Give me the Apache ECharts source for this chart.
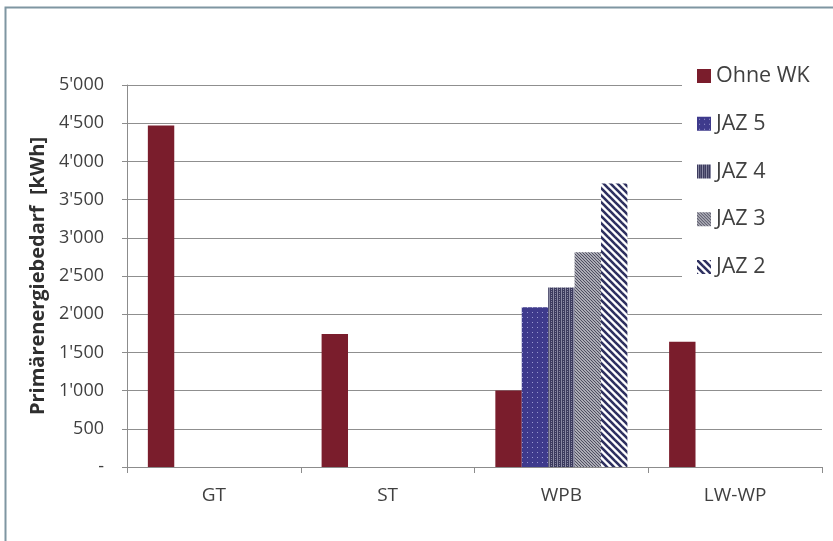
<!DOCTYPE html>
<html>
<head>
<meta charset="utf-8">
<script src="https://cdn.jsdelivr.net/npm/echarts@6/dist/echarts.min.js"></script>
<style>
  html, body { margin: 0; padding: 0; background: #fff; }
  #chart { width: 833px; height: 541px; }
</style>
</head>
<body>
<div id="chart"></div>
<script>
// Heating systems compared
const categories = ['GT', 'ST', 'WPB', 'LW-WP'];
const seriesNames = ['Ohne WK', 'JAZ 5', 'JAZ 4', 'JAZ 3', 'JAZ 2'];
// Primary energy demand [kWh]
const ohneWK = [4470, 1740, 1000, 1640];
const jaz5 = [null, null, 2090, null];
const jaz4 = [null, null, 2350, null];
const jaz3 = [null, null, 2810, null];
const jaz2 = [null, null, 3710, null];
const yTicks = [0, 500, 1000, 1500, 2000, 2500, 3000, 3500, 4000, 4500, 5000];

const FONT = '"Open Sans", "Noto Sans", sans-serif';

// Tile helpers for the hatched fills
function tile(w, h, draw) {
  const c = document.createElement('canvas');
  c.width = w; c.height = h;
  const g = c.getContext('2d');
  draw(g, w, h);
  return { image: c, repeat: 'repeat' };
}
function backslash(g, w, h, color, lw) {
  g.strokeStyle = color; g.lineWidth = lw;
  for (let k = -h; k <= w + h; k += w) {
    g.beginPath(); g.moveTo(k - 1, -1); g.lineTo(k + h + 1, h + 1); g.stroke();
  }
}

const fills = [
  '#7a1d2c',
  tile(5, 5, (g, w, h) => {
    g.fillStyle = '#3e3a8c'; g.fillRect(0, 0, w, h);
    g.fillStyle = '#9a98d0'; g.fillRect(2, 2, 1, 1);
  }),
  tile(4, 4, (g, w, h) => {
    g.fillStyle = '#3c3b5e'; g.fillRect(0, 0, w, h);
    g.fillStyle = '#8a8aa4'; g.fillRect(1, 0, 1, h); g.fillRect(3, 1, 1, 1); g.fillRect(3, 3, 1, 1);
  }),
  tile(3, 3, (g, w, h) => {
    g.fillStyle = '#d8d8de'; g.fillRect(0, 0, w, h);
    backslash(g, w, h, '#4a4a5c', 1.2);
  }),
  tile(7, 7, (g, w, h) => {
    g.fillStyle = '#ffffff'; g.fillRect(0, 0, w, h);
    backslash(g, w, h, '#2e3060', 2.6);
  })
];

const seriesData = [ohneWK, jaz5, jaz4, jaz3, jaz2];

function fmt(v) {
  if (v === 0) return '-';
  const s = String(v);
  return s.length > 3 ? s.slice(0, -3) + "'" + s.slice(-3) : s;
}

const chart = echarts.init(document.getElementById('chart'), null, { renderer: 'canvas' });
chart.setOption({
  backgroundColor: '#ffffff',
  animation: false,
  textStyle: { fontFamily: FONT },
  graphic: [{
    type: 'rect',
    shape: { x: 5.5, y: 7.5, width: 840, height: 560 },
    style: { fill: 'none', stroke: '#7f96a2', lineWidth: 2 },
    silent: true,
    z: -10
  }],
  grid: { left: 127, right: 11, top: 85, bottom: 74 },
  legend: {
    orient: 'vertical',
    left: 682,
    top: 60,
    width: 140,
    backgroundColor: '#ffffff',
    padding: [5, 20, 14, 15],
    itemWidth: 14,
    itemHeight: 14,
    itemGap: 25.75,
    icon: 'rect',
    data: seriesNames,
    textStyle: { fontSize: 21.5, color: '#404040', fontFamily: FONT, padding: [0, 0, 0, 0] },
    z: 10
  },
  xAxis: {
    type: 'category',
    data: categories,
    boundaryGap: true,
    axisLine: { lineStyle: { color: '#8c8c8c', width: 1 } },
    axisTick: { show: true, alignWithLabel: false, length: 6, lineStyle: { color: '#8c8c8c' } },
    axisLabel: { fontSize: 19, color: '#404040', margin: 19, fontFamily: FONT }
  },
  yAxis: {
    type: 'value',
    min: yTicks[0],
    max: yTicks[yTicks.length - 1],
    interval: yTicks[1] - yTicks[0],
    name: 'Primärenergiebedarf  [kWh]',
    nameLocation: 'middle',
    nameRotate: 90,
    nameGap: 79,
    nameTextStyle: { fontSize: 20, fontWeight: 'bold', color: '#2f2f2f', fontFamily: FONT },
    axisLine: { show: true, lineStyle: { color: '#8c8c8c', width: 1 } },
    axisTick: { show: true, inside: false, length: 5, lineStyle: { color: '#8c8c8c' } },
    axisLabel: { fontSize: 18, color: '#404040', margin: 23, formatter: fmt, fontFamily: FONT },
    splitLine: { show: true, lineStyle: { color: '#8f8f8f', width: 1.2 } }
  },
  series: seriesNames.map((name, i) => ({
    name,
    type: 'bar',
    data: seriesData[i],
    barGap: '0%',
    barCategoryGap: '24%',
    itemStyle: { color: fills[i] }
  }))
});
</script>
</body>
</html>
